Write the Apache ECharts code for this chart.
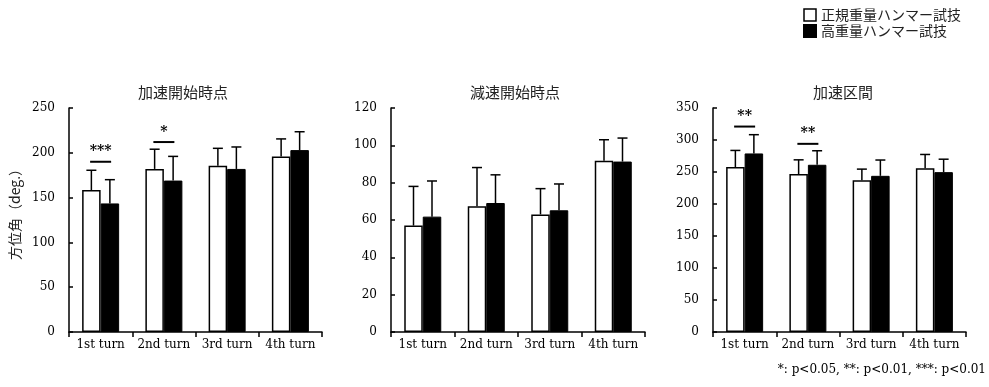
<!DOCTYPE html>
<html>
<head>
<meta charset="utf-8">
<script src="https://cdn.jsdelivr.net/npm/echarts@6/dist/echarts.min.js"></script>
<style>
  html, body { margin: 0; padding: 0; background: #fff; }
  #chart { width: 989px; height: 387px; }
</style>
</head>
<body>
<div id="chart"></div>
<script>
// Turn labels shared by all three panels
const categories = ['1st turn', '2nd turn', '3rd turn', '4th turn'];
const panelTitles = ['加速開始時点', '減速開始時点', '加速区間'];
const seriesNames = ['正規重量ハンマー試技', '高重量ハンマー試技'];

// 加速開始時点 (deg.): mean and SD
const accelStartNormal = [158.5, 182, 185.5, 196];
const accelStartNormalSD = [22, 22, 19.5, 19.5];
const accelStartHeavy = [143.5, 169, 182, 203];
const accelStartHeavySD = [26.5, 27, 24.5, 20.5];

// 減速開始時点 (deg.)
const decelStartNormal = [57, 67.3, 63, 91.8];
const decelStartNormalSD = [21, 20.8, 13.8, 11.2];
const decelStartHeavy = [61.8, 69.1, 65.2, 91.3];
const decelStartHeavySD = [19.1, 15.1, 14.1, 12.6];

// 加速区間 (deg.)
const accelPhaseNormal = [257.7, 246.7, 237.3, 256];
const accelPhaseNormalSD = [26, 22.3, 17.2, 21.4];
const accelPhaseHeavy = [279, 261.3, 244, 249.8];
const accelPhaseHeavySD = [29.3, 21.9, 24.7, 20.2];

// Axis ranges
const yMax = [250, 120, 350];
const yInterval = [50, 20, 50];
const yName = '方位角（deg.）';

// Significance brackets: panel, turn index, bracket height, label
const sigPanel = [0, 0, 2, 2];
const sigCategory = [0, 1, 0, 1];
const sigLevel = [190, 212, 321, 294];
const sigLabel = ['***', '*', '**', '**'];

const footnote = '*: p<0.05, **: p<0.01, ***: p<0.01';

const panels = [
  [accelStartNormal, accelStartNormalSD, accelStartHeavy, accelStartHeavySD],
  [decelStartNormal, decelStartNormalSD, decelStartHeavy, decelStartHeavySD],
  [accelPhaseNormal, accelPhaseNormalSD, accelPhaseHeavy, accelPhaseHeavySD]
];

const serif = '"DejaVu Serif", "Liberation Serif", serif';
const cjk = '"Noto Sans CJK JP", sans-serif';
const gridLeft = [69, 391, 713];
const gridWidth = [253, 254, 253];
const titleCenter = [178, 510, 838];
const BAR_W = 18.5;
const CAP = 5;

const grid = [], xAxis = [], yAxis = [], series = [], title = [];

panels.forEach((p, i) => {
  grid.push({ left: gridLeft[i], top: 108, width: gridWidth[i], height: 224 });
  title.push({
    text: panelTitles[i], left: titleCenter[i], top: 80, textAlign: 'center',
    textStyle: { fontFamily: cjk, fontSize: 15, fontWeight: 'normal', color: '#222' }
  });
  xAxis.push({
    type: 'category', gridIndex: i, data: categories,
    axisLine: { lineStyle: { color: '#000', width: 1.5 } },
    axisTick: { show: true, length: 5, inside: false, lineStyle: { color: '#000', width: 1.5 } },
    axisLabel: { interval: 0, fontFamily: serif, fontSize: 12, color: '#000', margin: 7 }
  });
  yAxis.push({
    type: 'value', gridIndex: i, min: 0, max: yMax[i], interval: yInterval[i],
    axisLine: { show: true, lineStyle: { color: '#000', width: 1.5 } },
    axisTick: { show: true, inside: true, length: 4, lineStyle: { color: '#000', width: 1.5 } },
    axisLabel: { fontFamily: serif, fontSize: 12, color: '#000', margin: 14 },
    splitLine: { show: false }
  });

  const [nMean, nSD, hMean, hSD] = p;
  series.push({
    name: seriesNames[0], type: 'bar', xAxisIndex: i, yAxisIndex: i,
    data: nMean, barWidth: BAR_W, barGap: '0%',
    itemStyle: { color: '#fff', borderColor: '#000', borderWidth: 1.5 }
  });
  series.push({
    name: seriesNames[1], type: 'bar', xAxisIndex: i, yAxisIndex: i,
    data: hMean, barWidth: BAR_W, barGap: '0%',
    itemStyle: { color: '#000', borderColor: '#000', borderWidth: 1 }
  });

  // Upper error bars (mean + SD) for each group
  [[nMean, nSD, -BAR_W / 2], [hMean, hSD, BAR_W / 2]].forEach(([m, sd, off]) => {
    series.push({
      type: 'custom', xAxisIndex: i, yAxisIndex: i, z: 5, silent: true,
      data: m.map((v, k) => [k, v, sd[k]]),
      renderItem: (params, api) => {
        const base = api.coord([api.value(0), api.value(1)]);
        const top = api.coord([api.value(0), api.value(1) + api.value(2)]);
        const x = base[0] + off;
        const style = { stroke: '#000', lineWidth: 1.5 };
        return {
          type: 'group', children: [
            { type: 'line', shape: { x1: x, y1: base[1], x2: x, y2: top[1] }, style },
            { type: 'line', shape: { x1: x - CAP, y1: top[1], x2: x + CAP, y2: top[1] }, style }
          ]
        };
      }
    });
  });

  // Significance markers for this panel
  const idx = sigPanel.map((s, k) => (s === i ? k : -1)).filter(k => k >= 0);
  if (idx.length) {
    series.push({
      type: 'custom', xAxisIndex: i, yAxisIndex: i, z: 6, silent: true,
      data: idx.map(k => [sigCategory[k], sigLevel[k]]),
      renderItem: (params, api) => {
        const c = api.coord([api.value(0), api.value(1)]);
        const label = sigLabel[idx[params.dataIndex]];
        return {
          type: 'group', children: [
            { type: 'line', shape: { x1: c[0] - 10.5, y1: c[1], x2: c[0] + 10.5, y2: c[1] },
              style: { stroke: '#000', lineWidth: 2 } },
            { type: 'text', x: c[0], y: c[1] - 3,
              style: { text: label, textAlign: 'center', textVerticalAlign: 'bottom',
                       font: 'bold 14px ' + serif, fill: '#000' } }
          ]
        };
      }
    });
  }
});

const chart = echarts.init(document.getElementById('chart'), null, { renderer: 'canvas' });
chart.setOption({
  animation: false,
  backgroundColor: '#fff',
  title,
  grid, xAxis, yAxis, series,
  legend: {
    data: [
      { name: seriesNames[0], itemStyle: { color: '#fff', borderColor: '#000', borderWidth: 1.5 } },
      { name: seriesNames[1], itemStyle: { color: '#000' } }
    ],
    orient: 'vertical', left: 798, top: 3, icon: 'rect',
    itemWidth: 12, itemHeight: 12, itemGap: 2, selectedMode: false,
    textStyle: { fontFamily: cjk, fontSize: 14, color: '#222', lineHeight: 14 }
  },
  graphic: [
    {
      type: 'text', x: 15, y: 211, rotation: Math.PI / 2,
      style: { text: yName, font: '14px ' + cjk, fill: '#222',
               textAlign: 'center', textVerticalAlign: 'middle' }
    },
    {
      type: 'text', right: 3, top: 364,
      style: { text: footnote, font: '12px ' + serif, fill: '#000' }
    }
  ]
});
</script>
</body>
</html>
